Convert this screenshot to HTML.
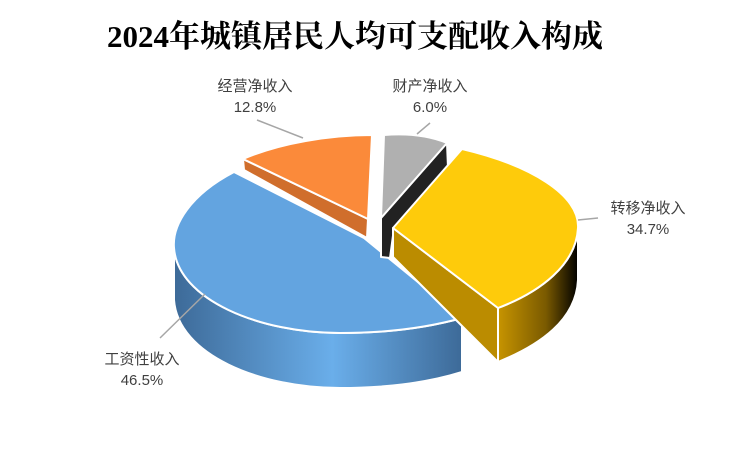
<!DOCTYPE html>
<html><head><meta charset="utf-8"><style>
html,body{margin:0;padding:0;background:#fff;width:751px;height:451px;overflow:hidden}
svg{display:block}
.t{font-family:"Liberation Serif","Noto Serif CJK SC",serif;font-weight:bold;font-size:31px;fill:#000}
.l{font-family:"Liberation Sans","Noto Sans CJK SC",sans-serif;font-size:15px;fill:#404040}
</style></head><body>
<svg width="751" height="451" viewBox="0 0 751 451">
<defs>
<linearGradient id="bs" x1="0" y1="0" x2="1" y2="0">
<stop offset="0" stop-color="#3d6a98"/><stop offset="0.55" stop-color="#6aaeea"/><stop offset="1" stop-color="#3d6a98"/>
</linearGradient>
<linearGradient id="ys" x1="0" y1="0" x2="1" y2="0">
<stop offset="0" stop-color="#c79400"/><stop offset="0.6" stop-color="#7a5a00"/><stop offset="1" stop-color="#000"/>
</linearGradient>
</defs>
<text class="t" x="355" y="47" text-anchor="middle">2024年城镇居民人均可支配收入构成</text>
<g stroke="#fff" stroke-width="2" stroke-linejoin="round">
<path d="M174,248 C178,300 260,333 340,333 C390,333 430,327 462,318 L462,372 C430,382 390,388 340,388 C260,388 178,355 174,300 Z" fill="url(#bs)"/>
<path d="M234,172 C190,195 172,225 174,248 C178,300 260,333 340,333 C390,333 430,327 462,318 L364,238 Z" fill="#63a4e0"/>
<path d="M243,159 L244,170 L367,238 L368,219 Z" fill="#d06e2c"/>
<path d="M243,159 C280,143 330,135 372,135 L368,219 Z" fill="#fb8a3a"/>
<path d="M447,143 L448,168 L394,228 L390,258 L381,257 L381,218 Z" fill="#222"/>
<path d="M384,135 C410,133 430,136 447,143 L381,218 Z" fill="#b0b0b0"/>
<path d="M498,308 C540,292 576,265 578,228 L578,280 C576,320 540,345 498,362 Z" fill="url(#ys)"/>
<path d="M393,228 L498,308 L498,362 L393,257 Z" fill="#bb8c00"/>
<path d="M393,228 L462,149 C530,165 580,195 578,228 C576,265 540,292 498,308 Z" fill="#fecb0b"/>
</g>
<g stroke="#a6a6a6" stroke-width="1.5" fill="none">
<line x1="257" y1="120" x2="303" y2="138"/>
<line x1="430" y1="123" x2="417" y2="134"/>
<line x1="598" y1="218" x2="578" y2="220"/>
<line x1="160" y1="338" x2="205" y2="294"/>
</g>
<text class="l" x="255" y="91" text-anchor="middle">经营净收入</text>
<text class="l" x="255" y="112" text-anchor="middle">12.8%</text>
<text class="l" x="430" y="91" text-anchor="middle">财产净收入</text>
<text class="l" x="430" y="112" text-anchor="middle">6.0%</text>
<text class="l" x="648" y="213" text-anchor="middle">转移净收入</text>
<text class="l" x="648" y="234" text-anchor="middle">34.7%</text>
<text class="l" x="142" y="364" text-anchor="middle">工资性收入</text>
<text class="l" x="142" y="385" text-anchor="middle">46.5%</text>
</svg>
</body></html>
